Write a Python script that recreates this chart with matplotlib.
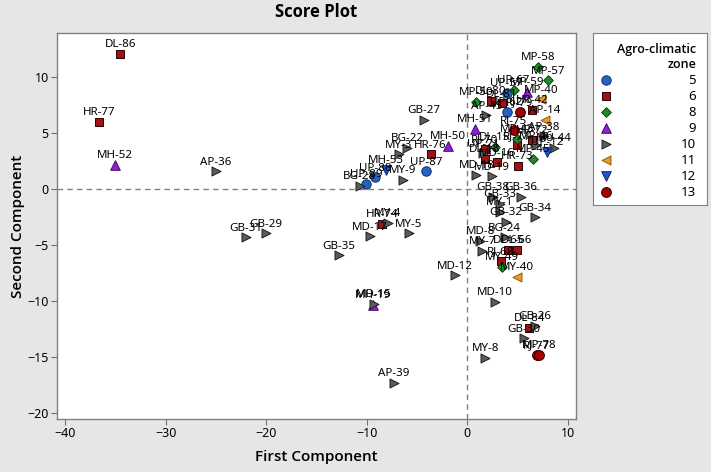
import numpy as np
import matplotlib.pyplot as plt

_DPI = 100
BG = "#e6e6e6"

# genotype scores: label, first component, second component, agro-climatic zone
labels = ["DL-86", "HR-77", "MH-52", "AP-36", "GB-31", "GB-29", "GB-35", "MD-17",
          "HR-74", "MY-4", "MY-5", "MD-12", "MH-19", "MD-15", "AP-39", "GB-27",
          "BG-22", "MY-3", "HR-76", "MH-50", "UP-87", "MY-9", "MH-53", "UP-88",
          "UP-89", "BG-28",
          "MP-58", "MP-57", "MP-50", "UP-67", "UP-57", "MP-59", "MP-40", "DL-80",
          "DL-81", "AP-45", "UP-62", "RJ-79", "HR-42", "AP-14", "MH-51", "RJ-75",
          "MP-43", "HR-72", "AP-38", "MU-44", "MP-46", "RJ-70", "DL-15", "UP-21",
          "RJ-71", "UP-12", "HR-73", "MP-45", "DL-18", "MD-16", "MD-18", "MD-19",
          "GB-38", "GB-36", "GB-33", "MY-1", "GB-34", "GB-32", "BG-24", "MD-8",
          "MY-7", "DL-65", "DL-66", "RJ-68", "MY-49", "MY-40", "MD-10", "DL-84",
          "GB-26", "GB-30", "RJ-77", "MP-78", "MY-8"]
pc1 = [-34.5, -36.6, -35.0, -25.0, -22.0, -20.0, -12.8, -9.7,
       -8.5, -7.9, -5.8, -1.2, -9.4, -9.3, -7.3, -4.3,
       -6.0, -6.8, -3.65, -1.9, -4.1, -6.4, -8.1, -9.2,
       -10.1, -10.7,
       7.05, 8.0, 0.9, 4.6, 3.9, 5.9, 7.3, 2.3,
       3.4, 1.9, 3.9, 5.2, 6.4, 7.7, 0.75, 4.6,
       4.9, 6.4, 7.6, 8.6, 6.8, 1.75, 2.74, 1.6,
       4.9, 7.9, 5.0, 6.55, 1.75, 2.9, 0.9, 2.4,
       2.5, 5.3, 3.2, 3.2, 6.7, 3.85, 3.7, 1.3,
       1.5, 4.07, 4.9, 3.3, 3.4, 4.9, 2.74, 6.15,
       6.7, 5.6, 6.9, 7.1, 1.8]
pc2 = [12.05, 6.0, 2.2, 1.6, -4.3, -3.95, -5.9, -4.2,
       -3.1, -3.0, -3.95, -7.7, -10.3, -10.2, -17.3, 6.2,
       3.7, 3.1, 3.1, 3.85, 1.6, 0.85, 1.7, 1.05,
       0.45, 0.3,
       10.9, 9.7, 7.8, 8.85, 8.6, 8.7, 8.0, 7.9,
       7.65, 6.6, 6.9, 6.9, 7.1, 6.2, 5.4, 5.3,
       4.5, 4.4, 4.7, 3.7, 3.9, 3.6, 3.8, 3.2,
       3.9, 3.33, 2.1, 2.7, 2.7, 2.4, 1.25, 1.15,
       -0.7, -0.7, -1.3, -2.0, -2.5, -2.9, -4.3, -4.6,
       -5.5, -5.4, -5.4, -6.4, -6.9, -7.8, -10.06, -12.35,
       -12.2, -13.3, -14.8, -14.8, -15.06]
zone = [6, 6, 9, 10, 10, 10, 10, 10,
        6, 10, 10, 10, 9, 10, 10, 10,
        10, 10, 6, 9, 5, 10, 12, 5,
        5, 10,
        8, 8, 8, 8, 5, 9, 11, 6,
        6, 10, 5, 13, 6, 11, 9, 13,
        8, 6, 10, 10, 10, 6, 8, 10,
        6, 12, 6, 8, 6, 6, 10, 10,
        10, 10, 10, 10, 10, 10, 10, 10,
        10, 6, 6, 6, 8, 11, 10, 6,
        10, 10, 13, 13, 10]

zones = [5, 6, 8, 9, 10, 11, 12, 13]

# Minitab-like symbols per zone
STYLE = {
    5:  dict(marker="o", fc="#2463c4", ec="#0c2f6e", s=46),
    6:  dict(marker="s", fc="#a31212", ec="#2a0000", s=32),
    8:  dict(marker="D", fc="#1f8a2a", ec="#0b4212", s=24),
    9:  dict(marker="^", fc="#8a22d0", ec="#45086e", s=48),
    10: dict(marker=">", fc="#5c5c5c", ec="#1e1e1e", s=42),
    11: dict(marker="<", fc="#e99a22", ec="#9a5a0a", s=42),
    12: dict(marker="v", fc="#2152cc", ec="#0b2a72", s=48),
    13: dict(marker="o", fc="#a30000", ec="#3a0000", s=50),
}

plt.rcParams["font.family"] = ["Noto Sans", "DejaVu Sans"]
BOLD = ["Open Sans", "Lato", "DejaVu Sans"]

fig = plt.figure(figsize=(7.11, 4.72), dpi=_DPI, facecolor=BG)
ax = fig.add_axes([57 / 711, 53 / 472, 519 / 711, 386 / 472])
ax.set_facecolor("white")

pc1 = np.array(pc1)
pc2 = np.array(pc2)
zone = np.array(zone)

ax.axvline(0, color="#808080", lw=1, ls=(0, (4, 3)), zorder=1)
ax.axhline(0, color="#808080", lw=1, ls=(0, (4, 3)), zorder=1)

for z in zones:
    m = zone == z
    st = STYLE[z]
    ax.scatter(pc1[m], pc2[m], marker=st["marker"], s=st["s"], facecolor=st["fc"],
               edgecolor=st["ec"], linewidth=0.7, zorder=3)

for lbl, x, y in zip(labels, pc1, pc2):
    ax.annotate(lbl, (x, y), xytext=(0, 4.8), textcoords="offset points",
                ha="center", va="baseline", fontsize=8.3, color="black", zorder=4)

ax.set_xlim(-40.8, 10.8)
ax.set_ylim(-20.5, 13.93)
ax.set_xticks([-40, -30, -20, -10, 0, 10])
ax.set_yticks([-20, -15, -10, -5, 0, 5, 10])
ax.tick_params(direction="out", length=4, color="#707070", labelsize=9, pad=2)
for t in ax.get_xticklabels() + ax.get_yticklabels():
    t.set_fontweight("medium")
for sp in ax.spines.values():
    sp.set_color("#808080")
    sp.set_linewidth(1)

fig.text(316.5 / 711, 1 - 12 / 472, "Score Plot", ha="center", va="center",
         fontsize=12, fontweight="bold", family=BOLD)
fig.text(316.5 / 711, 1 - 457 / 472, "First Component", ha="center", va="center",
         fontsize=11, fontweight="semibold", family=BOLD)
fig.text(18 / 711, 1 - 226 / 472, "Second Component", ha="center", va="center",
         fontsize=11, fontweight="semibold", family=BOLD, rotation=90)

# legend box drawn as its own small axes
lax = fig.add_axes([593 / 711, 1 - 205 / 472, 114 / 711, 172 / 472])
lax.set_facecolor("white")
lax.set_xlim(593, 707)
lax.set_ylim(205, 33)
lax.set_xticks([])
lax.set_yticks([])
for sp in lax.spines.values():
    sp.set_color("#808080")
lax.text(696, 49, "Agro-climatic", ha="right", va="center", fontsize=9,
         fontweight="semibold", family=BOLD)
lax.text(696, 64, "zone", ha="right", va="center", fontsize=9,
         fontweight="semibold", family=BOLD)
for i, z in enumerate(zones):
    yy = 80 + 16 * i
    st = STYLE[z]
    lax.scatter([605.5], [yy], marker=st["marker"], s=st["s"], facecolor=st["fc"],
                edgecolor=st["ec"], linewidth=0.7)
    lax.text(696, yy, str(z), ha="right", va="center", fontsize=9.5)

fig.savefig("out.png", dpi=_DPI, facecolor=BG)
